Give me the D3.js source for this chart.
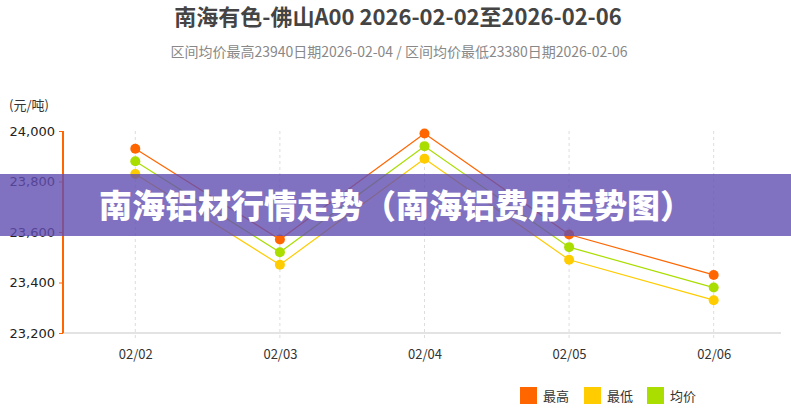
<!DOCTYPE html>
<html>
<head>
<meta charset="utf-8">
<script src="https://cdn.jsdelivr.net/npm/d3@7"></script>
<style>
  body { margin: 0; background: #fff; }
  svg { display: block; font-family: "Microsoft YaHei", "Noto Sans CJK SC", "Noto Sans", sans-serif; }
</style>
</head>
<body>
<script>
var dates = ["02/02", "02/03", "02/04", "02/05", "02/06"];
var highVals = [23930, 23570, 23990, 23590, 23430];
var lowVals = [23830, 23470, 23890, 23490, 23330];
var avgVals = [23880, 23520, 23940, 23540, 23380];
var seriesNames = ["最高", "最低", "均价"];
var seriesColors = ["#ff6600", "#ffcc00", "#aadd00"];
var yTicks = [23200, 23400, 23600, 23800, 24000];

var width = 791, height = 411;
var svg = d3.select("body").append("svg")
    .attr("width", width)
    .attr("height", height);

// titles
svg.append("text")
    .attr("x", 398).attr("y", 25)
    .attr("text-anchor", "middle")
    .style("font-size", "22px").style("font-weight", "bold")
    .attr("fill", "#444")
    .text("南海有色-佛山A00 2026-02-02至2026-02-06");

svg.append("text")
    .attr("x", 399).attr("y", 57)
    .attr("text-anchor", "middle")
    .style("font-size", "14px")
    .attr("fill", "#888")
    .text("区间均价最高23940日期2026-02-04 / 区间均价最低23380日期2026-02-06");

svg.append("text")
    .attr("x", 9).attr("y", 110)
    .style("font-size", "13px")
    .attr("fill", "#333")
    .text("(元/吨)");

var x = d3.scalePoint()
    .domain(dates)
    .range([63, 786])
    .padding(0.5);

var y = d3.scaleLinear()
    .domain([23200, 24000])
    .range([333, 131]);

// vertical dashed grid
svg.append("g")
  .selectAll("line")
  .data(dates)
  .enter()
  .append("line")
  .attr("x1", function(d){ return x(d); })
  .attr("x2", function(d){ return x(d); })
  .attr("y1", 131)
  .attr("y2", 340)
  .attr("stroke", "#ddd")
  .attr("stroke-dasharray", "3,3");

// x axis
var xAxis = svg.append("g")
    .attr("transform", "translate(0,333)")
    .call(d3.axisBottom(x).tickSize(0).tickPadding(17));
xAxis.select(".domain").attr("stroke", "#e3e3e3").attr("stroke-width", 2)
    .attr("d", "M63,0H781");
xAxis.selectAll("text").style("font-size", "13px").attr("fill", "#333")
    .style("font-family", "'Microsoft YaHei', 'Noto Sans CJK SC', sans-serif");

// y axis
var yAxis = svg.append("g")
    .attr("transform", "translate(63,0)")
    .call(d3.axisLeft(y).tickValues(yTicks).tickSize(4).tickPadding(4)
      .tickFormat(d3.format(",")));
yAxis.select(".domain").attr("stroke", "#ff6600").attr("stroke-width", 2)
    .attr("d", "M0,131V333");
yAxis.selectAll(".tick line").attr("stroke", "#ff6600");
yAxis.selectAll("text").style("font-size", "13px").attr("fill", "#222")
    .style("font-family", "'DejaVu Sans', sans-serif");

// series
var series = [highVals, lowVals, avgVals];
var line = d3.line()
    .x(function(d, i){ return x(dates[i]); })
    .y(function(d){ return y(d); });

series.forEach(function(vals, s){
  svg.append("path")
    .attr("d", line(vals))
    .attr("fill", "none")
    .attr("stroke", seriesColors[s])
    .attr("stroke-width", 1.2);
});
series.forEach(function(vals, s){
  svg.append("g")
    .selectAll("circle")
    .data(vals)
    .enter()
    .append("circle")
    .attr("cx", function(d, i){ return x(dates[i]); })
    .attr("cy", function(d){ return y(d); })
    .attr("r", 5)
    .attr("fill", seriesColors[s]);
});

// legend
var legendX = [520, 584, 647];
seriesNames.forEach(function(name, i){
  svg.append("rect")
    .attr("x", legendX[i]).attr("y", 387)
    .attr("width", 17).attr("height", 17)
    .attr("fill", seriesColors[i]);
  svg.append("text")
    .attr("x", legendX[i] + 23).attr("y", 401)
    .style("font-size", "13px")
    .attr("fill", "#333")
    .text(name);
});

// overlay banner
svg.append("rect")
    .attr("x", 0).attr("y", 174)
    .attr("width", width).attr("height", 62)
    .attr("fill", "rgb(98,78,178)")
    .attr("opacity", 0.8);
svg.append("text")
    .attr("x", 396).attr("y", 218)
    .attr("text-anchor", "middle")
    .style("font-size", "33px").style("font-weight", "900")
    .attr("fill", "#fff")
    .text("南海铝材行情走势（南海铝费用走势图）");
</script>
</body>
</html>
